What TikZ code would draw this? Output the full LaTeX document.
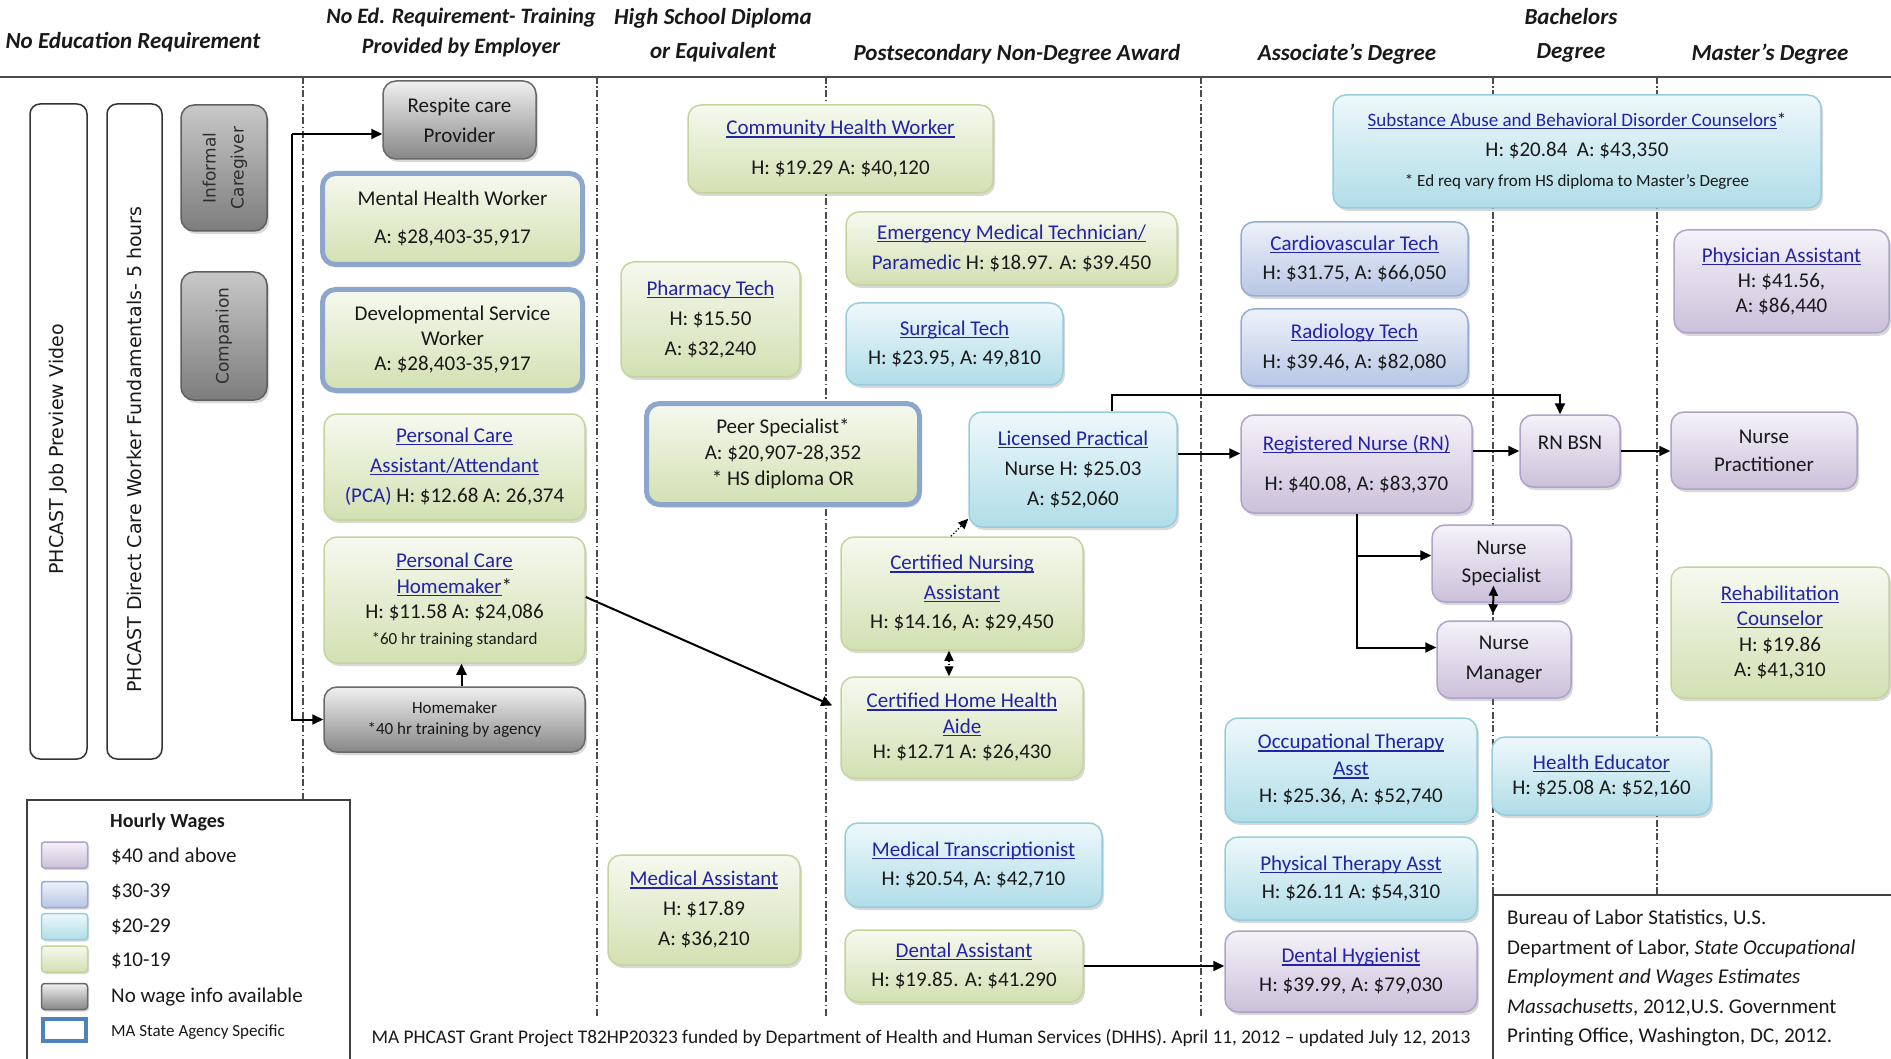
\documentclass[tikz,border=0pt]{standalone}
\usepackage{fontspec}
\setmainfont{Carlito}
\newfontfamily\vfont{DejaVu Sans}
\usetikzlibrary{arrows.meta,shadows}
\definecolor{lnk}{RGB}{35,35,165}
\definecolor{txt}{RGB}{25,25,25}
\definecolor{dtxt}{RGB}{45,45,45}
\definecolor{gT}{RGB}{246,249,239}
\definecolor{gB}{RGB}{211,224,178}
\definecolor{gD}{RGB}{196,213,155}
\definecolor{cT}{RGB}{238,248,251}
\definecolor{cB}{RGB}{176,221,232}
\definecolor{cD}{RGB}{150,205,220}
\definecolor{bT}{RGB}{238,241,249}
\definecolor{bB}{RGB}{184,199,229}
\definecolor{bD}{RGB}{150,172,210}
\definecolor{pT}{RGB}{245,242,249}
\definecolor{pB}{RGB}{203,192,218}
\definecolor{pD}{RGB}{176,162,200}
\definecolor{yT}{RGB}{240,240,240}
\definecolor{yB}{RGB}{135,135,135}
\definecolor{yD}{RGB}{105,105,105}
\definecolor{dT}{RGB}{200,200,200}
\definecolor{dB}{RGB}{125,125,125}
\definecolor{dD}{RGB}{95,95,95}
\definecolor{maD}{RGB}{140,166,204}
\definecolor{maL}{RGB}{79,129,189}
\newsavebox\lkbox
\newcommand\lk[1]{\textcolor{lnk}{\sbox\lkbox{#1}\rlap{\rule[-2.6pt]{\wd\lkbox}{1.1pt}}\usebox\lkbox}}
\newcommand\smf{\fontsize{17}{21}\selectfont}
\tikzset{
  box/.style={rounded corners=13pt, inner sep=0pt, align=center,
    font=\fontsize{21}{29}\selectfont, text=txt, line width=1.5pt,
    drop shadow={opacity=0.3, shadow xshift=2pt, shadow yshift=-3pt}},
  gcol/.style={top color=gT, bottom color=gB, draw=gD},
  ccol/.style={top color=cT, bottom color=cB, draw=cD},
  bcol/.style={top color=bT, bottom color=bB, draw=bD},
  pcol/.style={top color=pT, bottom color=pB, draw=pD},
  ycol/.style={top color=yT, bottom color=yB, draw=yD},
  gbox/.style={box, gcol},
  cbox/.style={box, ccol},
  bbox/.style={box, bcol},
  pbox/.style={box, pcol},
  ybox/.style={box, ycol},
  mabox/.style={box, gcol, draw=maD, line width=5pt},
  dbox/.style={box, top color=dT, bottom color=dB, draw=dD, text=dtxt,
    font=\vfont\fontsize{17}{28}\selectfont},
  sidebox/.style={rounded corners=10pt, inner sep=0pt, draw=black!80, line width=1.5pt,
    fill=white, text=txt, font=\vfont\fontsize{19}{23}\selectfont},
  hd/.style={font=\bfseries\itshape\fontsize{23}{30}\selectfont, align=center, text=txt},
  vline/.style={line width=1.3pt, black!70, dash pattern=on 7pt off 2.5pt on 1.5pt off 2.5pt},
  arr/.style={line width=2pt, -{Triangle[length=11pt,width=10pt]}},
  dotarr/.style={line width=1.3pt, dotted, -{Triangle[length=10pt,width=9pt]}},
  dbl/.style={line width=1.3pt, dotted, {Triangle[length=10pt,width=9pt]}-{Triangle[length=10pt,width=9pt]}},
  dbls/.style={line width=2pt, {Triangle[length=10pt,width=9pt]}-{Triangle[length=10pt,width=9pt]}},
  sw/.style={minimum width=46pt, minimum height=26pt, inner sep=0pt, rounded corners=3pt,
    line width=1.5pt, drop shadow={opacity=0.3, shadow xshift=1.5pt, shadow yshift=-2pt}},
  legtxt/.style={anchor=west, inner sep=0pt, text=txt, font=\fontsize{21}{25}\selectfont},
}
\begin{document}
\begin{tikzpicture}[x=1pt,y=-1pt]
\useasboundingbox (0,0) rectangle (1891,1059);
\fill[white] (0,0) rectangle (1891,1059);

% headers
\node[hd] (h1) at (133,42) {No Education Requirement};
\node[hd, font=\bfseries\itshape\fontsize{22}{30}\selectfont] (h2) at (461,33) {No Ed. Requirement- Training\\Provided by Employer};
\node[hd, font=\bfseries\itshape\fontsize{23}{34}\selectfont] (h3) at (713,35) {High School Diploma\\or Equivalent};
\node[hd] (h4) at (1017,54) {Postsecondary Non-Degree Award};
\node[hd] (h5) at (1347,54) {Associate’s Degree};
\node[hd, font=\bfseries\itshape\fontsize{23}{34}\selectfont] (h6) at (1571,35) {Bachelors\\Degree};
\node[hd] (h7) at (1770,54) {Master’s Degree};
\draw[line width=2pt, black!70] (0,77) -- (1891,77);

% column separators
\foreach \x/\ya/\yb in {303/77/800, 597/77/1018, 826/77/1018, 1201/77/1018, 1493/77/895, 1657/77/895}
  \draw[vline] (\x,\ya) -- (\x,\yb);

% left column
\node[sidebox, minimum width=57pt, minimum height=655pt] (vid) at (58.5,431.5)
  {\rotatebox{90}{PHCAST Job Preview Video\hspace*{36pt}}};
\node[sidebox, minimum width=55pt, minimum height=655pt] (fund) at (134.5,431.5)
  {\rotatebox{90}{PHCAST Direct Care Worker Fundamentals- 5 hours\hspace*{36pt}}};
\node[dbox, minimum width=86pt, minimum height=126pt] (inf) at (224,168)
  {\rotatebox{90}{\begin{tabular}{@{}c@{}}Informal\\Caregiver\end{tabular}}};
\node[dbox, minimum width=86pt, minimum height=128pt] (comp) at (224,336)
  {\rotatebox{90}{Companion}};

% no ed requirement - training by employer
\node[ybox, minimum width=153pt, minimum height=78pt, font=\fontsize{21}{30}\selectfont] (resp) at (459.5,120) {Respite care\\Provider};
\node[mabox, minimum width=260pt, minimum height=91pt, font=\fontsize{21}{38}\selectfont] (mhw) at (452.5,219) {Mental Health Worker\\A: \$28,403-35,917};
\node[mabox, minimum width=260pt, minimum height=101pt, font=\fontsize{21}{25}\selectfont] (dsw) at (452.5,340) {Developmental Service\\Worker\\A: \$28,403-35,917};
\node[gbox, minimum width=261pt, minimum height=106pt, font=\fontsize{21}{30}\selectfont] (pca) at (454.5,467) {\lk{Personal Care}\\\lk{Assistant/Attendant}\\\textcolor{lnk}{(PCA)} H: \$12.68 A: 26,374};
\node[gbox, minimum width=261pt, minimum height=126pt, font=\fontsize{21}{25.5}\selectfont] (pch) at (454.5,600) {\lk{Personal Care}\\\lk{Homemaker}*\\H: \$11.58 A: \$24,086\\{\smf *60 hr training standard}};
\node[ybox, minimum width=261pt, minimum height=65pt, font=\fontsize{17}{21}\selectfont] (hm) at (454.5,719.5) {Homemaker\\*40 hr training by agency};

% high school
\node[gbox, minimum width=305pt, minimum height=88pt, font=\fontsize{21}{40}\selectfont] (chw) at (840.5,149) {\lk{Community Health Worker}\\H: \$19.29 A: \$40,120};
\node[gbox, minimum width=179pt, minimum height=115pt, font=\fontsize{21}{30}\selectfont] (pharm) at (710.5,319.5) {\lk{Pharmacy Tech}\\H: \$15.50\\A: \$32,240};
\node[mabox, minimum width=273pt, minimum height=101pt, font=\fontsize{21}{26}\selectfont] (peer) at (783,454) {Peer Specialist*\\A: \$20,907-28,352\\* HS diploma OR};
\node[gbox, minimum width=192pt, minimum height=110pt, font=\fontsize{21}{30}\selectfont] (medas) at (704,910) {\lk{Medical Assistant}\\H: \$17.89\\A: \$36,210};

% postsecondary
\node[gbox, minimum width=331pt, minimum height=73pt, font=\fontsize{21}{30}\selectfont] (emt) at (1011.5,248.5) {\lk{Emergency Medical Technician/}\\\textcolor{lnk}{Paramedic} H: \$18.97. A: \$39.450};
\node[cbox, minimum width=217pt, minimum height=82pt, font=\fontsize{21}{29}\selectfont] (surg) at (954.5,344) {\lk{Surgical Tech}\\H: \$23.95, A: 49,810};
\node[cbox, minimum width=208pt, minimum height=115pt, font=\fontsize{21}{30}\selectfont] (lpn) at (1073,469.5) {\lk{Licensed Practical}\\Nurse H: \$25.03\\A: \$52,060};
\node[gbox, minimum width=242pt, minimum height=113pt, font=\fontsize{21}{29.5}\selectfont] (cna) at (962,593.5) {\lk{Certified Nursing}\\\lk{Assistant}\\H: \$14.16, A: \$29,450};
\node[gbox, minimum width=242pt, minimum height=101pt, font=\fontsize{21}{25.5}\selectfont] (chha) at (962,727.5) {\lk{Certified Home Health}\\\lk{Aide}\\H: \$12.71 A: \$26,430};
\node[cbox, minimum width=257pt, minimum height=84pt, font=\fontsize{21}{29}\selectfont] (mt) at (973.5,865) {\lk{Medical Transcriptionist}\\H: \$20.54, A: \$42,710};
\node[gbox, minimum width=238pt, minimum height=72pt, font=\fontsize{21}{29}\selectfont] (da) at (964,966) {\lk{Dental Assistant}\\H: \$19.85. A: \$41.290};

% associate
\node[cbox, minimum width=488pt, minimum height=113pt, font=\fontsize{21}{30}\selectfont] (sab) at (1577,151.5) {{\fontsize{19}{29}\selectfont\lk{Substance Abuse and Behavioral Disorder Counselors}*}\\H: \$20.84\ \ A: \$43,350\\{\smf * Ed req vary from HS diploma to Master’s Degree}};
\node[bbox, minimum width=227pt, minimum height=74pt, font=\fontsize{21}{29}\selectfont] (cvt) at (1354.5,259) {\lk{Cardiovascular Tech}\\H: \$31.75, A: \$66,050};
\node[bbox, minimum width=227pt, minimum height=77pt, font=\fontsize{21}{30}\selectfont] (rad) at (1354.5,347.5) {\lk{Radiology Tech}\\H: \$39.46, A: \$82,080};
\node[pbox, minimum width=231pt, minimum height=98pt, font=\fontsize{21}{40}\selectfont] (rn) at (1356.5,464) {\lk{Registered Nurse (RN)}\\H: \$40.08, A: \$83,370};
\node[cbox, minimum width=252pt, minimum height=104pt, font=\fontsize{21}{27}\selectfont] (ota) at (1351,770) {\lk{Occupational Therapy}\\\lk{Asst}\\H: \$25.36, A: \$52,740};
\node[cbox, minimum width=252pt, minimum height=83pt, font=\fontsize{21}{28}\selectfont] (pta) at (1351,878.5) {\lk{Physical Therapy Asst}\\H: \$26.11 A: \$54,310};
\node[pbox, minimum width=252pt, minimum height=81pt, font=\fontsize{21}{29}\selectfont] (dh) at (1351,971.5) {\lk{Dental Hygienist}\\H: \$39.99, A: \$79,030};

% bachelors
\node[pbox, minimum width=100pt, minimum height=72pt] (rnbsn) at (1570,451) {\raisebox{17pt}{RN BSN}};
\node[pbox, minimum width=139pt, minimum height=77pt, font=\fontsize{21}{28}\selectfont] (ns) at (1501.5,563.5) {Nurse\\Specialist};
\node[pbox, minimum width=134pt, minimum height=77pt, font=\fontsize{21}{30}\selectfont] (nm) at (1504,659.5) {Nurse\\Manager};
\node[cbox, minimum width=219pt, minimum height=78pt, font=\fontsize{21}{25}\selectfont] (he) at (1601.5,776) {\lk{Health Educator}\\H: \$25.08 A: \$52,160};

% masters
\node[pbox, minimum width=215pt, minimum height=103pt, font=\fontsize{21}{25}\selectfont] (pa) at (1781.5,281.5) {\lk{Physician Assistant}\\H: \$41.56,\\A: \$86,440};
\node[pbox, minimum width=186pt, minimum height=77pt, font=\fontsize{21}{28}\selectfont] (np) at (1764,450.5) {Nurse\\Practitioner};
\node[gbox, minimum width=218pt, minimum height=131pt, font=\fontsize{21}{25.5}\selectfont] (rc) at (1780,632.5) {\lk{Rehabilitation}\\\lk{Counselor}\\H: \$19.86\\A: \$41,310};

% connectors
\coordinate (br) at (292,134);
\draw[arr] (br) -- (resp.west |- br);
\draw[arr] (br) |- (hm.west);
\draw[arr] ([xshift=7pt]hm.north) -- ([xshift=7pt]pch.south);
\draw[arr] ([yshift=3pt]pch.east) -- ([xshift=-8pt,yshift=22pt]chha.west);
\draw[dotarr] ([xshift=-11pt]cna.north) -- ([yshift=9pt]lpn.south west);
\draw[dbl] ([xshift=-13pt]cna.south) -- ([xshift=-13pt]chha.north);
\draw[arr] ([yshift=16pt]lpn.east) -- ([yshift=16pt]lpn.east -| rn.west);
\draw[arr] (rnbsn.west -| rn.east) -- (rnbsn.west);
\draw[arr] (rnbsn.east) -- (rnbsn.east -| np.west);
\draw[arr] ([xshift=39pt]lpn.north) -- ++(0,-16) -| ([xshift=-10pt]rnbsn.north);
\draw[arr] (rn.south) |- ([yshift=8pt]ns.west);
\draw[arr] (rn.south) |- ([yshift=12pt]nm.west);
\draw[dbls] ([xshift=-8pt,yshift=17pt]ns.south) -- ([xshift=-11pt,yshift=6pt]nm.north);
\draw[arr] (da.east) -- (da.east -| dh.west);

% legend
\draw[line width=1.5pt, black!75] (27,800) rectangle (350,1070);
\node[anchor=west, inner sep=0pt, text=txt, font=\bfseries\fontsize{20}{24}\selectfont] (lgt) at (110,822) {Hourly Wages};
\node[sw, pcol] (s1) at (64.5,855) {};
\node[sw, bcol] (s2) at (64.5,894.5) {};
\node[sw, ccol] (s3) at (64.5,926.5) {};
\node[sw, gcol] (s4) at (64.5,959) {};
\node[sw, ycol] (s5) at (64.5,996.5) {};
\node[sw, fill=white, draw=maL, line width=4pt, rounded corners=0pt, minimum width=43pt, minimum height=22pt] (s6) at (64.5,1029.5) {};
\node[legtxt] (t1) at (111,856) {\$40 and above};
\node[legtxt] (t2) at (111,892) {\$30-39};
\node[legtxt] (t3) at (111,927) {\$20-29};
\node[legtxt] (t4) at (111,961) {\$10-19};
\node[legtxt] (t5) at (111,997) {No wage info available};
\node[legtxt, font=\fontsize{17}{21}\selectfont] (t6) at (111,1032) {MA State Agency Specific};

% source box
\draw[line width=1.5pt, black!75] (1493,895) rectangle (1900,1070);
\node[anchor=north west, inner sep=0pt, align=left, text=txt, font=\fontsize{21}{29.5}\selectfont] (src) at (1507,910)
  {Bureau of Labor Statistics, U.S.\\Department of Labor, \textit{State Occupational}\\\textit{Employment and Wages Estimates}\\\textit{Massachusetts}, 2012,U.S. Government\\Printing Office, Washington, DC, 2012.};

% footer
\node[text=txt, font=\fontsize{19.3}{22}\selectfont] (foot) at (921,1038) {MA PHCAST Grant Project T82HP20323 funded by Department of Health and Human Services (DHHS). April 11, 2012 – updated July 12, 2013};
\end{tikzpicture}
\end{document}
